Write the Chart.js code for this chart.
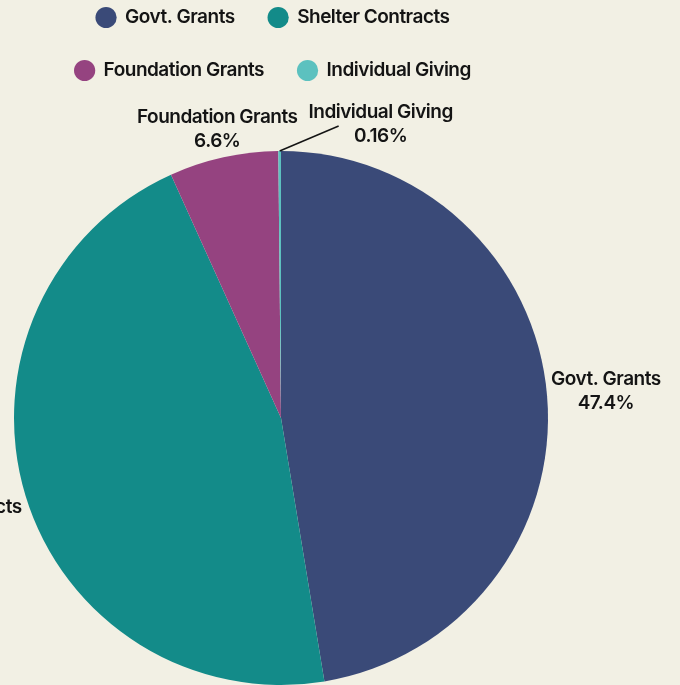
<!DOCTYPE html>
<html>
<head>
<meta charset="utf-8">
<script src="https://cdn.jsdelivr.net/npm/chart.js@4"></script>
<style>
  html, body { margin: 0; padding: 0; background: #f2f0e4; }
  body { width: 680px; height: 685px; overflow: hidden; position: relative; }
  #wrap { position: absolute; left: 0; top: -26px; width: 680px; height: 772px; }
</style>
</head>
<body>
<div id="wrap"><canvas id="fundingChart"></canvas></div>
<script>
const categories = ['Govt. Grants', 'Shelter Contracts', 'Foundation Grants', 'Individual Giving']
const shares = [47.4, 45.84, 6.6, 0.16]
const shareLabels = ['47.4%', '45.8%', '6.6%', '0.16%']
const sliceColors = ['#3a4a78', '#138b89', '#954380', '#5cc1bf']

const FONT = 'Inter, "Open Sans", sans-serif'
const TRACKING = '-0.5px'
const ctx = document.getElementById('fundingChart')

// tighter letter spacing, canvas resets it on resize so set it often
const tracking = {
    id: 'tracking',
    beforeUpdate(chart) { chart.ctx.letterSpacing = TRACKING },
    beforeLayout(chart) { chart.ctx.letterSpacing = TRACKING },
    beforeDraw(chart) { chart.ctx.letterSpacing = TRACKING },
    // legend sits a bit left of the pie centre in the original
    afterLayout(chart) {
        chart.legend.left -= 8
        chart.legend.right -= 8
    }
}

// labels outside the slices, small slice gets a leader line
const outsideLabels = {
    id: 'outsideLabels',
    afterDatasetsDraw(chart) {
        const c = chart.ctx
        const arcs = chart.getDatasetMeta(0).data
        c.save()
        c.letterSpacing = TRACKING
        c.font = '600 19px ' + FONT
        c.fillStyle = '#141414'
        c.textAlign = 'center'
        c.textBaseline = 'middle'
        const lineGap = 24
        arcs.forEach((arc, i) => {
            const {x, y, startAngle, endAngle, outerRadius} = arc.getProps(['x', 'y', 'startAngle', 'endAngle', 'outerRadius'], true)
            const mid = (startAngle + endAngle) / 2
            const dx = Math.cos(mid), dy = Math.sin(mid)
            const ax = x + dx * outerRadius
            const ay = y + dy * outerRadius
            const lines = [categories[i], shareLabels[i]]
            const w = Math.max(...lines.map(l => c.measureText(l).width))
            const h = lineGap * 2
            let lx, ly
            if (shares[i] < 1) {
                const ex = ax + 59, ey = ay - 25
                c.strokeStyle = '#141414'
                c.lineWidth = 1.5
                c.beginPath()
                c.moveTo(ax, ay)
                c.lineTo(ex, ey)
                c.stroke()
                lx = ax + 101
                ly = ay - 27
            } else {
                const t = Math.min(Math.abs(dx) > 1e-6 ? (w / 2) / Math.abs(dx) : Infinity,
                                   Math.abs(dy) > 1e-6 ? (h / 2) / Math.abs(dy) : Infinity)
                const d = 4 + t
                lx = ax + dx * d
                ly = ay + dy * d
            }
            c.fillText(lines[0], lx, ly - lineGap / 2)
            c.fillText(lines[1], lx, ly + lineGap / 2)
        })
        c.restore()
    }
}

const fundingChart = new Chart(ctx, {
    type: 'pie',
    data: {
        labels: categories,
        datasets: [{
            data: shares,
            backgroundColor: sliceColors,
            borderWidth: 0
        }]
    },
    options: {
        responsive: true,
        maintainAspectRatio: false,
        animation: false,
        layout: {
            padding: {top: 0, left: 14, right: 132, bottom: 0}
        },
        plugins: {
            tooltip: {enabled: false},
            legend: {
                position: 'top',
                labels: {
                    usePointStyle: true,
                    pointStyle: 'circle',
                    boxWidth: 19,
                    boxHeight: 15,
                    padding: 34,
                    color: '#141414',
                    font: {family: FONT, size: 19, weight: '600'}
                }
            }
        }
    },
    plugins: [tracking, outsideLabels]
});
</script>
</body>
</html>
